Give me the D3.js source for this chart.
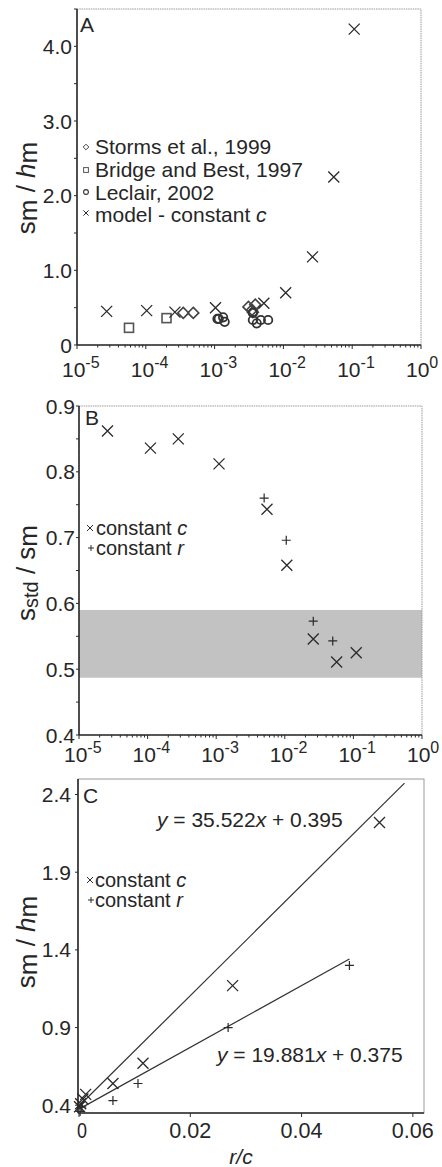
<!DOCTYPE html>
<html>
<head>
<meta charset="utf-8">
<script src="https://cdn.jsdelivr.net/npm/d3@7"></script>
<style>
  body { margin: 0; background: #fff; }
  svg { display: block; }
  text { font-family: "Liberation Sans", Arial, sans-serif; fill: #262626; }
</style>
</head>
<body>
<svg id="fig" width="442" height="1167"></svg>
<script>
// ---- Panel A: spacing / height vs r/c, model (constant c) and field data ----
const modelRc     = [2.7e-5, 1.03e-4, 2.65e-4, 1.03e-3, 5.2e-3, 1.08e-2, 2.65e-2, 5.4e-2, 1.07e-1];
const modelSmHm   = [0.45, 0.46, 0.44, 0.50, 0.56, 0.70, 1.18, 2.25, 4.23];
const stormsRc    = [3.5e-4, 4.9e-4, 3.1e-3, 3.5e-3, 3.9e-3, 3.6e-3];
const stormsSmHm  = [0.43, 0.43, 0.51, 0.47, 0.54, 0.44];
const bridgeRc    = [5.7e-5, 2.0e-4];
const bridgeSmHm  = [0.23, 0.36];
const leclairRc   = [1.1e-3, 1.15e-3, 1.33e-3, 1.4e-3, 3.6e-3, 4.1e-3, 4.7e-3, 6.0e-3, 3.6e-3];
const leclairSmHm = [0.35, 0.35, 0.37, 0.31, 0.335, 0.29, 0.335, 0.335, 0.43];
const legendA     = ["Storms et al., 1999", "Bridge and Best, 1997", "Leclair, 2002", "model - constant "];

// ---- Panel B: s_std / s_m vs r/c ----
const ccRcB  = [2.6e-5, 1.1e-4, 2.8e-4, 1.1e-3, 5.5e-3, 1.07e-2, 2.6e-2, 5.7e-2, 1.1e-1];
const ccStdB = [0.862, 0.836, 0.850, 0.812, 0.743, 0.658, 0.546, 0.511, 0.525];
const crRcB  = [5.0e-3, 1.05e-2, 2.6e-2, 5.0e-2];
const crStdB = [0.760, 0.696, 0.573, 0.543];
const bandB  = [0.487, 0.590];

// ---- Panel C: s_m / h_m vs r/c (linear), with fitted lines ----
const ccRcC  = [0.0001, 0.0003, 0.0007, 0.0012, 0.0061, 0.0115, 0.0276, 0.054];
const ccSmC  = [0.39, 0.41, 0.44, 0.47, 0.54, 0.67, 1.17, 2.22];
const crRcC  = [0.0002, 0.0005, 0.0061, 0.0106, 0.0268, 0.0486];
const crSmC  = [0.36, 0.39, 0.43, 0.54, 0.90, 1.30];
const fitC   = { slope: 35.522, intercept: 0.395, xEnd: 0.0585 };
const fitR   = { slope: 19.881, intercept: 0.375, xEnd: 0.0486 };

const decadeTicks = [-5, -4, -3, -2, -1, 0];

const svg = d3.select("#fig");
const ink = "#2a2a2a";

function cross(g, x, y, s, w) {
  g.append("path")
    .attr("d", `M${x - s},${y - s}L${x + s},${y + s}M${x - s},${y + s}L${x + s},${y - s}`)
    .attr("stroke", ink).attr("stroke-width", w || 1.3).attr("fill", "none");
}
function plus(g, x, y, s, w) {
  g.append("path")
    .attr("d", `M${x - s},${y}L${x + s},${y}M${x},${y - s}L${x},${y + s}`)
    .attr("stroke", ink).attr("stroke-width", w || 1.2).attr("fill", "none");
}
function diamond(g, x, y, s, w) {
  g.append("path")
    .attr("d", `M${x},${y - s}L${x + s},${y}L${x},${y + s}L${x - s},${y}Z`)
    .attr("stroke", "#444").attr("stroke-width", w || 1.6).attr("fill", "none");
}
function square(g, x, y, s, w) {
  g.append("rect").attr("x", x - s).attr("y", y - s).attr("width", 2 * s).attr("height", 2 * s)
    .attr("stroke", "#555").attr("stroke-width", w || 1.6).attr("fill", "none");
}
function circle(g, x, y, r, w) {
  g.append("circle").attr("cx", x).attr("cy", y).attr("r", r)
    .attr("stroke", "#333").attr("stroke-width", w || 1.8).attr("fill", "none");
}

// frame: gray top/right, dark left/bottom
function frame(g, x0, x1, y0, y1, dashed) {
  g.append("rect").attr("x", x0).attr("y", y0).attr("width", x1 - x0).attr("height", y1 - y0)
    .attr("fill", "none").attr("stroke", "#9a9a9a").attr("stroke-width", 1)
    .attr("stroke-dasharray", dashed ? "1.5,0.8" : null);
  g.append("line").attr("x1", x0).attr("x2", x0).attr("y1", y0).attr("y2", y1)
    .attr("stroke", ink).attr("stroke-width", 1.6);
  g.append("line").attr("x1", x0).attr("x2", x1).attr("y1", y1).attr("y2", y1)
    .attr("stroke", ink).attr("stroke-width", 1.6);
}

function logXAxis(g, x, yAxis, labelY) {
  // minor + major ticks
  for (let e = -5; e < 0; e++) {
    for (let m = 1; m <= 9; m++) {
      const v = m * Math.pow(10, e);
      g.append("line").attr("x1", x(v)).attr("x2", x(v)).attr("y1", yAxis)
        .attr("y2", yAxis + (m === 1 ? 4 : 2.5)).attr("stroke", ink).attr("stroke-width", 1);
    }
  }
  g.append("line").attr("x1", x(1)).attr("x2", x(1)).attr("y1", yAxis).attr("y2", yAxis + 4)
    .attr("stroke", ink).attr("stroke-width", 1);
  decadeTicks.forEach(e => {
    const t = g.append("text").attr("x", x(Math.pow(10, e)) - 15).attr("y", labelY)
      .attr("font-size", 21);
    t.append("tspan").text("10");
    t.append("tspan").attr("font-size", 16).attr("dy", -9).text(e === 0 ? "0" : "-" + (-e));
  });
}

function yTicks(g, y, x0, values, labels, fmt, labelX) {
  values.forEach(v => {
    g.append("line").attr("x1", x0 - 3).attr("x2", x0).attr("y1", y(v)).attr("y2", y(v))
      .attr("stroke", ink).attr("stroke-width", 1);
  });
  labels.forEach(v => {
    g.append("text").attr("x", labelX).attr("y", y(v)).attr("dy", "0.36em")
      .attr("text-anchor", "end").attr("font-size", 21).text(fmt(v));
  });
}

function yLabel(g, cx, cy, parts) {
  const t = g.append("text").attr("transform", `translate(${cx},${cy}) rotate(-90)`)
    .attr("text-anchor", "middle").attr("font-size", 26);
  parts.forEach(p => {
    const s = t.append("tspan").text(p.t);
    if (p.size) s.attr("font-size", p.size);
    if (p.dy) s.attr("dy", p.dy);
    if (p.italic) s.attr("font-style", "italic");
  });
}

// ================= Panel A =================
{
  const g = svg.append("g");
  const x = d3.scaleLog().domain([1e-5, 1]).range([77, 421]);
  const y = d3.scaleLinear().domain([0, 4.5]).range([345, 9]);
  frame(g, 77, 421, 9, 345, true);
  yTicks(g, y, 77, d3.range(0, 4.51, 0.5), [0, 1, 2, 3, 4], v => v === 0 ? "0" : v.toFixed(1), 72);
  logXAxis(g, x, 345, 377);

  bridgeRc.forEach((r, i) => square(g, x(r), y(bridgeSmHm[i]), 4.5));
  stormsRc.forEach((r, i) => diamond(g, x(r), y(stormsSmHm[i]), 5.5));
  leclairRc.forEach((r, i) => circle(g, x(r), y(leclairSmHm[i]), 4.2));
  modelRc.forEach((r, i) => cross(g, x(r), y(modelSmHm[i]), 5.5));

  g.append("text").attr("x", 80).attr("y", 32).attr("font-size", 21).text("A");

  const ly = [154, 177, 200, 222];
  legendA.forEach((s, i) => {
    const t = g.append("text").attr("x", 95).attr("y", ly[i]).attr("font-size", 21).text(s);
    if (i === 3) t.append("tspan").attr("font-style", "italic").text("c");
  });
  diamond(g, 86, ly[0] - 7, 2.8, 1);
  square(g, 86, ly[1] - 7, 2.4, 1);
  circle(g, 86, ly[2] - 8, 2.4, 1.1);
  cross(g, 86, ly[3] - 9, 2.6, 1);

  yLabel(g, 35, 188, [
    { t: "s" }, { t: "m", dy: 2 }, { t: " / ", dy: -2 }, { t: "h", italic: true }, { t: "m", dy: 2 }
  ]);
}

// ================= Panel B =================
{
  const g = svg.append("g");
  const x = d3.scaleLog().domain([1e-5, 1]).range([79, 422]);
  const y = d3.scaleLinear().domain([0.4, 0.9]).range([735, 406]);
  g.append("rect").attr("x", x(1e-5)).attr("width", x(1) - x(1e-5))
    .attr("y", y(bandB[1])).attr("height", y(bandB[0]) - y(bandB[1]))
    .attr("fill", "#c2c2c2");
  frame(g, 79, 422, 406, 735, true);
  yTicks(g, y, 79, d3.range(0.4, 0.901, 0.05), [0.4, 0.5, 0.6, 0.7, 0.8, 0.9], v => v.toFixed(1), 75);
  logXAxis(g, x, 735, 762);

  ccRcB.forEach((r, i) => cross(g, x(r), y(ccStdB[i]), 5.5));
  crRcB.forEach((r, i) => plus(g, x(r), y(crStdB[i]), 4.5));

  g.append("text").attr("x", 85).attr("y", 425).attr("font-size", 21).text("B");

  const t1 = g.append("text").attr("x", 96).attr("y", 535).attr("font-size", 20).text("constant ");
  t1.append("tspan").attr("font-style", "italic").text("c");
  const t2 = g.append("text").attr("x", 96).attr("y", 555).attr("font-size", 20).text("constant ");
  t2.append("tspan").attr("font-style", "italic").text("r");
  cross(g, 90, 528, 3, 1);
  plus(g, 91, 548, 3, 1);

  yLabel(g, 35, 573, [
    { t: "s" }, { t: "std", size: 20, dy: 3 }, { t: " / ", dy: -3 }, { t: "s" }, { t: "m", dy: 2 }
  ]);
}

// ================= Panel C =================
{
  const g = svg.append("g");
  const x = d3.scaleLinear().domain([0, 0.062]).range([79, 424]);
  const y = d3.scaleLinear().domain([0.35, 2.5]).range([1113, 779]);
  frame(g, 78, 424, 779, 1113, false);
  yTicks(g, y, 78, [0.4, 0.9, 1.4, 1.9, 2.4], [0.4, 0.9, 1.4, 1.9, 2.4], v => v.toFixed(1), 71);

  const xt = [0, 0.02, 0.04, 0.06];
  xt.forEach(v => {
    g.append("line").attr("x1", x(v)).attr("x2", x(v)).attr("y1", 1113).attr("y2", 1117)
      .attr("stroke", ink).attr("stroke-width", 1);
    g.append("text").attr("x", v === 0 ? x(v) + 3 : x(v)).attr("y", 1138).attr("text-anchor", "middle")
      .attr("font-size", 22).attr("textLength", v === 0 ? 10 : 42)
      .attr("lengthAdjust", "spacingAndGlyphs").text(v === 0 ? "0" : String(v));
  });
  g.append("text").attr("x", 241).attr("y", 1164).attr("text-anchor", "middle")
    .attr("font-size", 21).attr("font-style", "italic").text("r/c");

  const line = d3.line().x(d => x(d[0])).y(d => y(d[1]));
  [fitC, fitR].forEach(f => {
    g.append("path")
      .attr("d", line([[0, f.intercept], [f.xEnd, f.slope * f.xEnd + f.intercept]]))
      .attr("stroke", "#333").attr("stroke-width", 1.2).attr("fill", "none");
  });

  ccRcC.forEach((r, i) => cross(g, x(r), y(ccSmC[i]), 5.5));
  crRcC.forEach((r, i) => plus(g, x(r), y(crSmC[i]), 4.5));

  g.append("text").attr("x", 83).attr("y", 803).attr("font-size", 21).text("C");

  function eq(xp, yp, f) {
    const t = g.append("text").attr("x", xp).attr("y", yp).attr("font-size", 21);
    t.append("tspan").attr("font-style", "italic").text("y");
    t.append("tspan").text(` = ${f.slope.toFixed(3)}`);
    t.append("tspan").attr("font-style", "italic").text("x");
    t.append("tspan").text(` + ${f.intercept.toFixed(3)}`);
  }
  eq(157, 827, fitC);
  eq(217, 1062, fitR);

  const t1 = g.append("text").attr("x", 95).attr("y", 887).attr("font-size", 20).text("constant ");
  t1.append("tspan").attr("font-style", "italic").text("c");
  const t2 = g.append("text").attr("x", 95).attr("y", 907).attr("font-size", 20).text("constant ");
  t2.append("tspan").attr("font-style", "italic").text("r");
  cross(g, 90, 880, 3, 1);
  plus(g, 91, 900, 3, 1);

  yLabel(g, 35, 942, [
    { t: "s" }, { t: "m", dy: 2 }, { t: " / ", dy: -2 }, { t: "h", italic: true }, { t: "m", dy: 2 }
  ]);
}
</script>
</body>
</html>
